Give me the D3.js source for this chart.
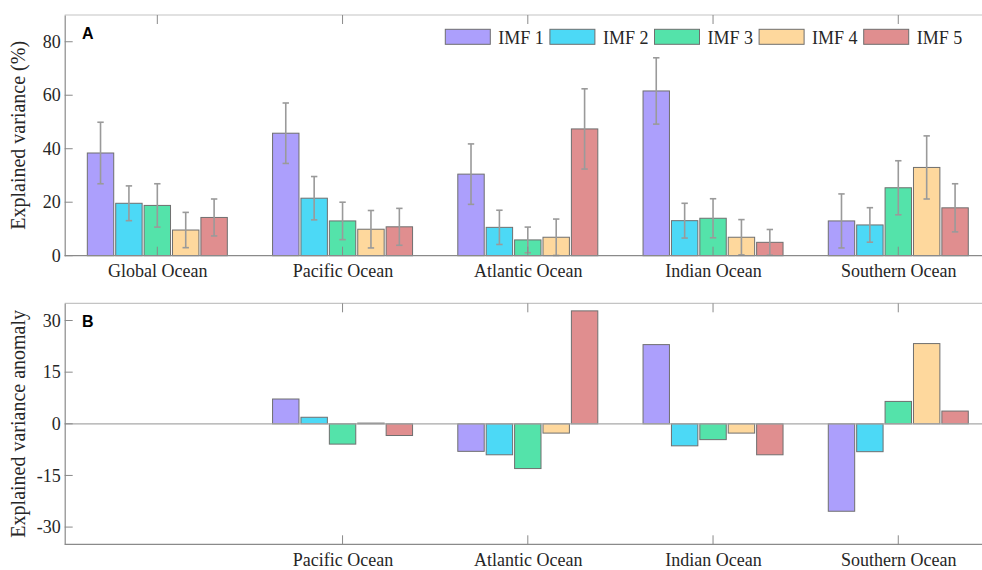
<!DOCTYPE html>
<html>
<head>
<meta charset="utf-8">
<script src="https://cdn.jsdelivr.net/npm/d3@7"></script>
<style>
  body { margin: 0; background: #fff; }
  svg { display: block; }
  text { font-family: "Liberation Serif", "Times New Roman", serif; fill: #262626; }
  text.panel-letter { font-family: "Liberation Sans", Arial, sans-serif; font-weight: bold; fill: #000; }
</style>
</head>
<body>
<svg id="chart" width="982" height="570"></svg>
<script>
const categories = ["Global Ocean", "Pacific Ocean", "Atlantic Ocean", "Indian Ocean", "Southern Ocean"];
const series = ["IMF 1", "IMF 2", "IMF 3", "IMF 4", "IMF 5"];
const colors = ["#ac9ffc", "#4cd9f6", "#54e3aa", "#fed89d", "#e08e8f"];

// Panel A: explained variance (%) per region [IMF1..IMF5]
const varGlobal   = [38.4, 19.6, 18.8, 9.6, 14.3];
const varPacific  = [45.8, 21.5, 13.0, 9.9, 10.8];
const varAtlantic = [30.5, 10.6, 5.9, 6.9, 47.4];
const varIndian   = [61.6, 13.1, 14.0, 6.9, 5.0];
const varSouthern = [13.0, 11.5, 25.4, 33.0, 17.9];
// Error (± half-length)
const errGlobal   = [11.5, 6.5, 8.1, 6.6, 6.9];
const errPacific  = [11.3, 8.1, 7.0, 7.0, 6.9];
const errAtlantic = [11.3, 6.4, 4.8, 6.8, 15.0];
const errIndian   = [12.4, 6.5, 7.3, 6.6, 4.8];
const errSouthern = [10.1, 6.45, 10.1, 11.8, 9.0];

// Panel B: anomaly relative to global ocean
const anomPacific  = [7.2, 1.9, -5.9, 0.2, -3.4];
const anomAtlantic = [-8.0, -9.0, -13.0, -2.7, 32.8];
const anomIndian   = [23.0, -6.4, -4.6, -2.7, -9.0];
const anomSouthern = [-25.4, -8.1, 6.5, 23.3, 3.7];

const ticksA = [0, 20, 40, 60, 80];
const ticksB = [-30, -15, 0, 15, 30];

const valuesA = [varGlobal, varPacific, varAtlantic, varIndian, varSouthern];
const errorsA = [errGlobal, errPacific, errAtlantic, errIndian, errSouthern];
const anomCats = categories.slice(1);
const valuesB = [anomPacific, anomAtlantic, anomIndian, anomSouthern];

const svg = d3.select("#chart");
const strokeCol = "#6f6f6f";
const axisCol = "#8a8a8a";
const frameCol = "#c4c4c4";

const x = d3.scaleLinear().domain([0.5, 5.5]).range([64.7, 990.9]);
const xc = c => x(categories.indexOf(c) + 1);
const inner = d3.scaleBand().domain(series).range([-70, 70]).paddingInner(0.07);

function drawPanel(cfg) {
  const { top, bottom, domain, ticks, label, letter, cats, data, errs, tickCats, zeroLine } = cfg;
  const y = d3.scaleLinear().domain(domain).range([bottom, top]);
  const g = svg.append("g");
  const left = x.range()[0], right = x.range()[1];

  // frame
  g.append("line").attr("x1", left).attr("x2", right).attr("y1", top).attr("y2", top)
    .attr("stroke", frameCol).attr("stroke-width", 1.2);
  g.append("line").attr("x1", right).attr("x2", right).attr("y1", top).attr("y2", bottom)
    .attr("stroke", frameCol).attr("stroke-width", 1.2);

  // bars
  cats.forEach((c, ci) => {
    const grp = g.append("g").attr("transform", `translate(${xc(c)},0)`);
    grp.selectAll("rect").data(series).join("rect")
      .attr("x", s => inner(s))
      .attr("width", inner.bandwidth())
      .attr("y", (s, i) => y(Math.max(0, data[ci][i])))
      .attr("height", (s, i) => Math.abs(y(data[ci][i]) - y(0)))
      .attr("fill", (s, i) => colors[i])
      .attr("stroke", strokeCol).attr("stroke-width", 1);
    if (errs) {
      series.forEach((s, i) => {
        const cx = inner(s) + inner.bandwidth() / 2;
        const lo = Math.max(domain[0], data[ci][i] - errs[ci][i]);
        const hi = data[ci][i] + errs[ci][i];
        const eg = grp.append("g").attr("stroke", "#9a9a9a").attr("stroke-width", 1.6);
        eg.append("line").attr("x1", cx).attr("x2", cx).attr("y1", y(lo)).attr("y2", y(hi));
        eg.append("line").attr("x1", cx - 3.2).attr("x2", cx + 3.2).attr("y1", y(lo)).attr("y2", y(lo));
        eg.append("line").attr("x1", cx - 3.2).attr("x2", cx + 3.2).attr("y1", y(hi)).attr("y2", y(hi));
      });
    }
  });

  // zero line / bottom axis
  if (zeroLine) {
    g.append("line").attr("x1", left).attr("x2", right).attr("y1", y(0)).attr("y2", y(0))
      .attr("stroke", "#a8a8a8").attr("stroke-width", 1.2);
  }
  g.append("line").attr("x1", left).attr("x2", right).attr("y1", bottom).attr("y2", bottom)
    .attr("stroke", axisCol).attr("stroke-width", 1.2);

  // y axis (left)
  const yAxis = d3.axisLeft(y).tickValues(ticks).tickFormat(v => String(v)).tickSize(0).tickPadding(4);
  const ya = g.append("g").attr("transform", `translate(${left},0)`).call(yAxis);
  ya.select(".domain").attr("stroke", axisCol).attr("stroke-width", 1.2);
  ya.selectAll("text").attr("font-size", 18).attr("fill", "#262626");
  // inward ticks on left and right
  ticks.forEach(t => {
    g.append("line").attr("x1", left).attr("x2", left + 8).attr("y1", y(t)).attr("y2", y(t))
      .attr("stroke", axisCol).attr("stroke-width", 1);
    g.append("line").attr("x1", right).attr("x2", right - 8).attr("y1", y(t)).attr("y2", y(t))
      .attr("stroke", axisCol).attr("stroke-width", 1);
  });

  // x axis labels & inward ticks (bottom + top)
  const xAxis = d3.axisBottom(x).tickValues(tickCats.map(c => categories.indexOf(c) + 1))
    .tickFormat(v => categories[v - 1]).tickSize(0).tickPadding(9);
  const xa = g.append("g").attr("transform", `translate(0,${bottom})`).call(xAxis);
  xa.select(".domain").remove();
  xa.selectAll("text").attr("font-size", 18).attr("fill", "#262626");
  tickCats.forEach(c => {
    g.append("line").attr("x1", xc(c)).attr("x2", xc(c)).attr("y1", bottom).attr("y2", bottom - 9)
      .attr("stroke", axisCol).attr("stroke-width", 1);
    g.append("line").attr("x1", xc(c)).attr("x2", xc(c)).attr("y1", top).attr("y2", top + 9)
      .attr("stroke", axisCol).attr("stroke-width", 1);
  });

  // y label
  g.append("text").attr("transform", `translate(25,${(top + bottom) / 2}) rotate(-90)`)
    .attr("text-anchor", "middle").attr("font-size", 20).text(label);

  // panel letter
  g.append("text").attr("class", "panel-letter").attr("x", 82).attr("y", top + 24)
    .attr("font-size", 16).text(letter);
  return y;
}

drawPanel({ top: 15, bottom: 255.7, domain: [0, 90], ticks: ticksA, label: "Explained variance (%)",
  letter: "A", cats: categories, data: valuesA, errs: errorsA, tickCats: categories, zeroLine: false });
drawPanel({ top: 303.3, bottom: 544.3, domain: [-35, 35], ticks: ticksB, label: "Explained variance anomaly",
  letter: "B", cats: anomCats, data: valuesB, errs: null, tickCats: anomCats, zeroLine: true });

// legend
const legend = svg.append("g").attr("transform", "translate(445.3,29.3)");
series.forEach((s, i) => {
  const lg = legend.append("g").attr("transform", `translate(${i * 104.6},0)`);
  lg.append("rect").attr("width", 45).attr("height", 15).attr("fill", colors[i])
    .attr("stroke", strokeCol).attr("stroke-width", 1);
  lg.append("text").attr("x", 53).attr("y", 14.5).attr("font-size", 18).text(s);
});
</script>
</body>
</html>
